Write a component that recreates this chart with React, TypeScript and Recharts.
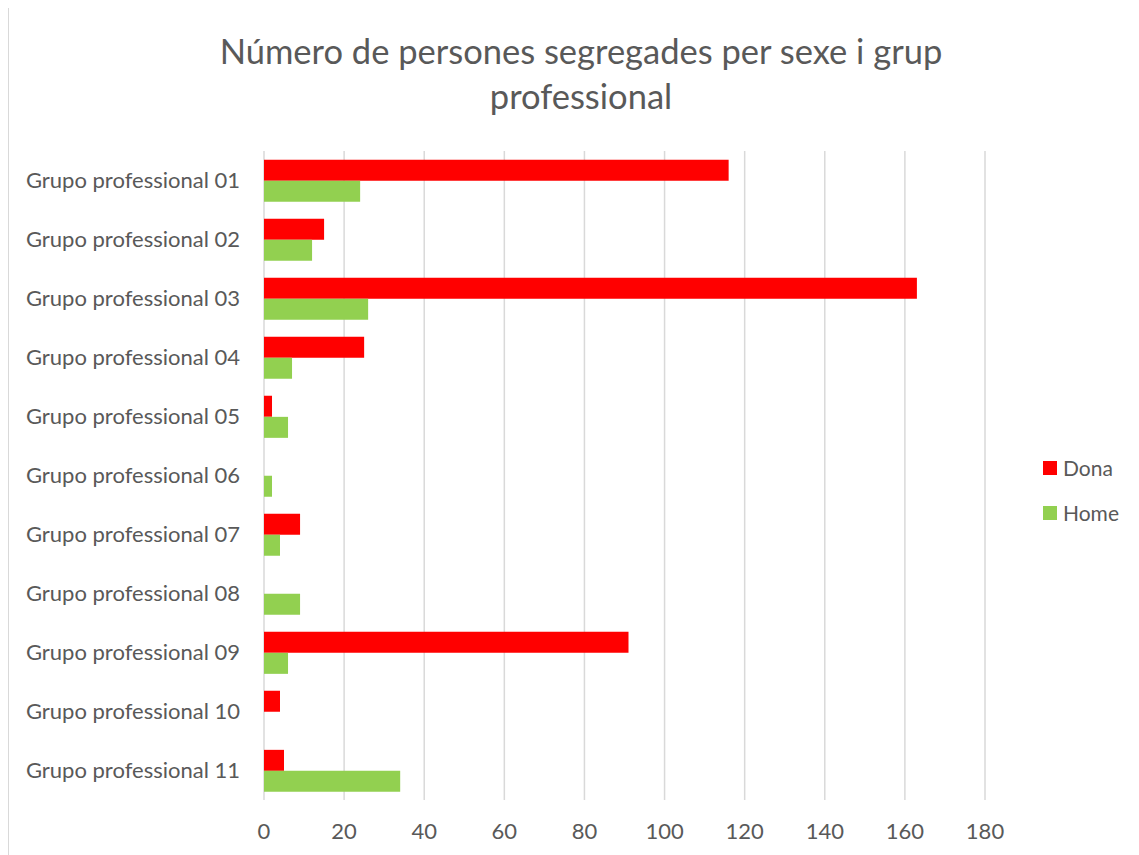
import React from "react";
import { BarChart, Bar, XAxis, YAxis, CartesianGrid, Legend } from "recharts";

const categories = [
  "Grupo professional 01",
  "Grupo professional 02",
  "Grupo professional 03",
  "Grupo professional 04",
  "Grupo professional 05",
  "Grupo professional 06",
  "Grupo professional 07",
  "Grupo professional 08",
  "Grupo professional 09",
  "Grupo professional 10",
  "Grupo professional 11",
];
const dona = [116, 15, 163, 25, 2, 0, 9, 0, 91, 4, 5];
const home = [24, 12, 26, 7, 6, 2, 4, 9, 6, 0, 34];
const xTicks = [0, 20, 40, 60, 80, 100, 120, 140, 160, 180];

const data = categories.map((name, i) => ({ name, Dona: dona[i], Home: home[i] }));

const FONT = "Lato, 'DejaVu Sans', sans-serif";
const TEXT = "#595959";

// legend drawn by hand so spacing matches the Excel look
const renderLegend = (props: any) => (
  <div style={{ fontFamily: FONT, fontSize: 21, color: TEXT }}>
    {props.payload.map((p: any) => (
      <div key={p.value} style={{ display: "flex", alignItems: "center", height: 45 }}>
        <span style={{ width: 14, height: 14, background: p.color, marginRight: 6, display: "inline-block" }} />
        {p.value}
      </div>
    ))}
  </div>
);

export default function App() {
  return (
    <div
      style={{
        position: "relative",
        width: 1131,
        height: 849,
        marginTop: -2,
        borderLeft: "1px solid #d9d9d9",
        borderTop: "1px solid #d9d9d9",
        boxSizing: "border-box",
        background: "#fff",
      }}
    >
      <div
        style={{
          position: "absolute",
          left: 0,
          width: 1144,
          top: 21,
          textAlign: "center",
          fontFamily: FONT,
          fontSize: 34.5,
          lineHeight: "45px",
          color: TEXT,
        }}
      >
        Número de persones segregades per sexe i grup
        <br />
        professional
      </div>
      <BarChart
        width={1130}
        height={848}
        data={data}
        layout="vertical"
        margin={{ top: 144, right: 54, left: 0, bottom: 25 }}
        barCategoryGap="15%"
        barGap={0}
      >
        <CartesianGrid horizontal={false} stroke="#d9d9d9" strokeWidth={1.5} />
        <XAxis
          type="number"
          domain={[0, 180]}
          ticks={xTicks}
          axisLine={false}
          tickLine={false}
          tickSize={0}
          tickMargin={23}
          height={30}
          tick={{ fontFamily: FONT, fontSize: 22, fill: TEXT }}
        />
        <YAxis
          type="category"
          dataKey="name"
          width={255}
          axisLine={false}
          tickLine={false}
          tickSize={0}
          tickMargin={24}
          tick={{ fontFamily: FONT, fontSize: 22, fill: TEXT }}
        />
        <Legend
          layout="vertical"
          align="right"
          verticalAlign="top"
          content={renderLegend}
          wrapperStyle={{ left: 1034, top: 438, width: 100 }}
        />
        <Bar dataKey="Dona" fill="#FF0000" isAnimationActive={false} />
        <Bar dataKey="Home" fill="#92D050" isAnimationActive={false} />
      </BarChart>
    </div>
  );
}
